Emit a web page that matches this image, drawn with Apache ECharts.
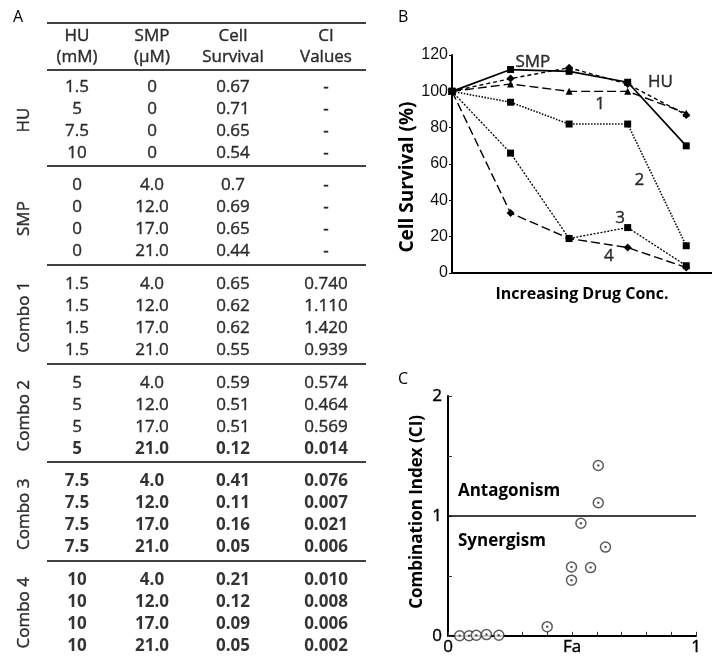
<!DOCTYPE html>
<html>
<head>
<meta charset="utf-8">
<script src="https://cdn.jsdelivr.net/npm/echarts@6/dist/echarts.min.js"></script>
<style>
  html, body { margin: 0; padding: 0; background: #fff; }
  #chart { width: 712px; height: 656px; }
</style>
</head>
<body>
<div id="chart"></div>
<script>
// ---- table A ----
var groupNames = ['HU', 'SMP', 'Combo 1', 'Combo 2', 'Combo 3', 'Combo 4']
var headerTop = ['HU', 'SMP', 'Cell', 'CI']
var headerBottom = ['(mM)', '(µM)', 'Survival', 'Values']
var huConc = [
  ['1.5', '5', '7.5', '10'], ['0', '0', '0', '0'], ['1.5', '1.5', '1.5', '1.5'],
  ['5', '5', '5', '5'], ['7.5', '7.5', '7.5', '7.5'], ['10', '10', '10', '10']
]
var smpConc = [
  ['0', '0', '0', '0'], ['4.0', '12.0', '17.0', '21.0'], ['4.0', '12.0', '17.0', '21.0'],
  ['4.0', '12.0', '17.0', '21.0'], ['4.0', '12.0', '17.0', '21.0'], ['4.0', '12.0', '17.0', '21.0']
]
var survival = [
  ['0.67', '0.71', '0.65', '0.54'], ['0.7', '0.69', '0.65', '0.44'], ['0.65', '0.62', '0.62', '0.55'],
  ['0.59', '0.51', '0.51', '0.12'], ['0.41', '0.11', '0.16', '0.05'], ['0.21', '0.12', '0.09', '0.05']
]
var ciValues = [
  ['-', '-', '-', '-'], ['-', '-', '-', '-'], ['0.740', '1.110', '1.420', '0.939'],
  ['0.574', '0.464', '0.569', '0.014'], ['0.076', '0.007', '0.021', '0.006'], ['0.010', '0.008', '0.006', '0.002']
]
// rows printed in bold: [group, row]
var boldRows = [[3, 3], [4, 0], [4, 1], [4, 2], [4, 3], [5, 0], [5, 1], [5, 2], [5, 3]]

// ---- panel B ----
var drugSteps = [0, 1, 2, 3, 4]
var survSMP = [100, 112, 111, 105, 70]
var survHU = [100, 107, 113, 104, 87]
var survCombo1 = [100, 104, 100, 100, 88]
var survCombo2 = [100, 94, 82, 82, 15]
var survCombo3 = [100, 66, 19, 25, 4]
var survCombo4 = [100, 33, 19, 14, 3]
var lineLabels = ['SMP', 'HU', '1', '2', '3', '4']
var lineLabelPos = [[1.38, 116], [3.56, 105], [2.53, 93], [3.2, 51], [2.87, 30], [2.68, 9]]

// ---- panel C ----
var faValues = [0.047, 0.085, 0.114, 0.155, 0.205, 0.40, 0.498, 0.498, 0.536, 0.575, 0.606, 0.606, 0.635]
var ciPoints = [0.0, 0.0, 0.005, 0.01, 0.005, 0.076, 0.464, 0.574, 0.939, 0.569, 1.110, 1.420, 0.740]

// layout helpers (pixels / row units) for the table
var colX = [77, 152, 233, 326]
var groupX = 24
var G = 4.48
var FONT = 'Open Sans'
var INK = '#000'

function isBold(g, r) {
  return boldRows.some(function(b) { return b[0] === g && b[1] === r })
}

var cells = []
headerTop.forEach(function(t, c) { cells.push({ name: t, value: [colX[c], -2.33] }) })
headerBottom.forEach(function(t, c) { cells.push({ name: t, value: [colX[c], -1.37] }) })
var cols = [huConc, smpConc, survival, ciValues]
groupNames.forEach(function(name, g) {
  for (var r = 0; r < 4; r++) {
    cols.forEach(function(col, c) {
      var bold = isBold(g, r)
      cells.push({
        name: col[g][r],
        value: [colX[c], g * G + r],
        label: bold ? { fontWeight: 'bold', textBorderWidth: 0 } : {}
      })
    })
  }
  cells.push({ name: name, value: [groupX, g * G + 1.5], label: { rotate: 90 } })
})

var rules = [-2.92, -0.77]
for (var g = 0; g < 5; g++) rules.push(g * G + 3.6)

var lineStyles = [
  { data: survSMP, symbol: 'rect', size: 7, type: 'solid', width: 1.7 },
  { data: survHU, symbol: 'diamond', size: 8, type: [4, 3], width: 1.4 },
  { data: survCombo1, symbol: 'triangle', size: 7, type: [9, 4], width: 1.4 },
  { data: survCombo2, symbol: 'rect', size: 7, type: [1.5, 1.5], width: 1.6 },
  { data: survCombo3, symbol: 'rect', size: 7, type: [2, 1.5], width: 1.3 },
  { data: survCombo4, symbol: 'diamond', size: 8, type: [9, 4], width: 1.4 }
]

// regular-weight text is drawn a little heavier, like the printed figure
var plainText = {
  color: INK,
  fontFamily: FONT,
  fontSize: 17,
  textBorderColor: INK,
  textBorderWidth: 0.4
}

var chart = echarts.init(document.getElementById('chart'))

var series = [
  {
    name: 'table',
    type: 'scatter',
    xAxisIndex: 0,
    yAxisIndex: 0,
    symbolSize: 0,
    silent: true,
    data: cells,
    label: Object.assign({ show: true, position: 'inside', formatter: '{b}' }, plainText),
    markLine: {
      silent: true,
      symbol: 'none',
      label: { show: false },
      lineStyle: { color: '#000', width: 1.6, type: 'solid' },
      data: rules.map(function(u) { return [{ coord: [47, u] }, { coord: [366, u] }] })
    }
  }
]

lineStyles.forEach(function(s, i) {
  series.push({
    name: lineLabels[i],
    type: 'line',
    xAxisIndex: 1,
    yAxisIndex: 1,
    data: drugSteps.map(function(x, k) { return [x, s.data[k]] }),
    symbol: s.symbol,
    symbolSize: s.size,
    itemStyle: { color: INK },
    lineStyle: { color: INK, width: s.width, type: s.type }
  })
})

series.push({
  name: 'line labels',
  type: 'scatter',
  xAxisIndex: 1,
  yAxisIndex: 1,
  symbolSize: 0,
  silent: true,
  data: lineLabels.map(function(t, i) { return { name: t, value: lineLabelPos[i] } }),
  label: Object.assign({ show: true, position: 'inside', formatter: '{b}' }, plainText)
})

var ciData = faValues.map(function(x, i) { return [x, ciPoints[i]] })
series.push({
  name: 'CI',
  type: 'scatter',
  xAxisIndex: 2,
  yAxisIndex: 2,
  symbol: 'circle',
  symbolSize: 10,
  itemStyle: { color: '#fff', borderColor: '#333', borderWidth: 1.5 },
  data: ciData,
  markLine: {
    silent: true,
    symbol: 'none',
    label: { show: false },
    lineStyle: { color: '#000', width: 1.6, type: 'solid' },
    data: [{ yAxis: 1 }]
  },
  markPoint: {
    silent: true,
    symbol: 'circle',
    symbolSize: 0,
    label: {
      show: true,
      position: 'right',
      distance: 0,
      formatter: '{b}',
      color: INK,
      fontFamily: FONT,
      fontWeight: 'bold',
      fontSize: 17
    },
    data: [
      { name: 'Antagonism', coord: [0.04, 1.21] },
      { name: 'Synergism', coord: [0.04, 0.79] }
    ]
  }
})
series.push({
  name: 'CI dots',
  type: 'scatter',
  xAxisIndex: 2,
  yAxisIndex: 2,
  symbol: 'circle',
  symbolSize: 2.5,
  itemStyle: { color: '#333' },
  data: ciData
})

chart.setOption({
  animation: false,
  backgroundColor: '#fff',
  textStyle: { fontFamily: FONT },
  grid: [
    { left: 0, top: 0, width: 370, height: 656 },
    { left: 452, right: 0, top: 55, bottom: 383 },
    { left: 448, right: 16, top: 396, bottom: 19 }
  ],
  xAxis: [
    { gridIndex: 0, type: 'value', min: 0, max: 370, show: false },
    {
      gridIndex: 1,
      type: 'value',
      min: 0,
      max: 4.44,
      name: 'Increasing Drug Conc.',
      nameLocation: 'middle',
      nameGap: 13,
      nameTextStyle: { fontFamily: FONT, fontWeight: 'bold', fontSize: 16, color: INK },
      axisLine: { lineStyle: { color: '#000', width: 2 } },
      axisTick: { show: false },
      axisLabel: { show: false },
      splitLine: { show: false }
    },
    {
      gridIndex: 2,
      type: 'value',
      min: 0,
      max: 1,
      interval: 0.1,
      axisLine: { lineStyle: { color: '#000', width: 2 } },
      axisTick: { inside: true, length: 4, lineStyle: { color: '#333' } },
      axisLabel: Object.assign({
        margin: 3,
        formatter: function(v) {
          if (Math.abs(v) < 1e-6) return '0'
          if (Math.abs(v - 0.5) < 1e-6) return 'Fa'
          if (Math.abs(v - 1) < 1e-6) return '1'
          return ''
        }
      }, plainText),
      splitLine: { show: false }
    }
  ],
  yAxis: [
    { gridIndex: 0, type: 'value', inverse: true, min: -87 / 22, max: 569 / 22, show: false },
    {
      gridIndex: 1,
      type: 'value',
      min: 0,
      max: 120,
      interval: 20,
      name: 'Cell Survival (%)',
      nameLocation: 'middle',
      nameGap: 26,
      nameTextStyle: {
        fontFamily: FONT, fontWeight: 'bold', fontSize: 19, color: INK,
        padding: [0, 26, 0, 0]
      },
      axisLine: { show: true, lineStyle: { color: '#000', width: 2 } },
      axisTick: { show: true, length: 3, lineStyle: { color: '#000' } },
      axisLabel: { margin: 4, color: '#111', fontFamily: 'Liberation Sans', fontSize: 16 },
      splitLine: { show: false }
    },
    {
      gridIndex: 2,
      type: 'value',
      min: 0,
      max: 2,
      interval: 0.5,
      name: 'Combination Index (CI)',
      nameLocation: 'middle',
      nameGap: 22,
      nameTextStyle: {
        fontFamily: FONT, fontWeight: 'bold', fontSize: 17, color: INK,
        padding: [0, 0, 0, 8]
      },
      axisLine: { show: true, lineStyle: { color: '#000', width: 2 } },
      axisTick: { show: true, inside: true, length: 4, lineStyle: { color: '#333' } },
      axisLabel: Object.assign({
        margin: 6,
        formatter: function(v) { return v % 1 === 0 ? String(v) : '' }
      }, plainText),
      splitLine: { show: false }
    }
  ],
  graphic: [
    { type: 'text', left: 13, top: 9, style: { text: 'A', font: '16px "Open Sans"', fill: INK } },
    { type: 'text', left: 398, top: 9, style: { text: 'B', font: '16px "Open Sans"', fill: INK } },
    { type: 'text', left: 398, top: 371, style: { text: 'C', font: '16px "Open Sans"', fill: INK } }
  ],
  series: series
})
</script>
</body>
</html>
